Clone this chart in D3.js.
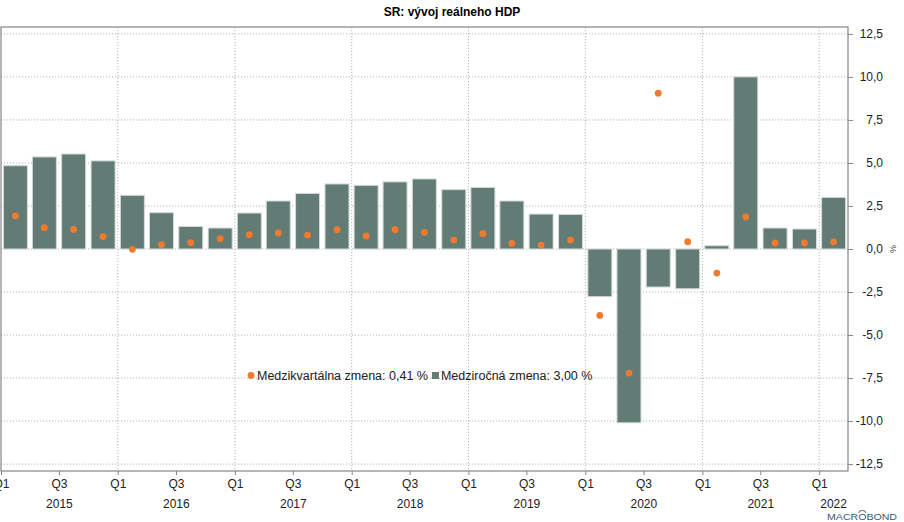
<!DOCTYPE html>
<html>
<head>
<meta charset="utf-8">
<script src="https://cdn.jsdelivr.net/npm/d3@7"></script>
<style>
	body { margin: 0; background: #fff; }
	svg { display: block; font-family: "Liberation Sans", Arial, sans-serif; }
</style>
</head>
<body>
<svg id="chart" width="904" height="522"></svg>
<script>
// quarters shown, first quarter of 2015 up to first quarter of 2022
var quarters = ["2015Q1","2015Q2","2015Q3","2015Q4","2016Q1","2016Q2","2016Q3","2016Q4",
	"2017Q1","2017Q2","2017Q3","2017Q4","2018Q1","2018Q2","2018Q3","2018Q4",
	"2019Q1","2019Q2","2019Q3","2019Q4","2020Q1","2020Q2","2020Q3","2020Q4",
	"2021Q1","2021Q2","2021Q3","2021Q4","2022Q1"];

// medziročná zmena (bars)
var yoy = [4.84, 5.35, 5.52, 5.12, 3.12, 2.11, 1.31, 1.22,
	2.09, 2.79, 3.23, 3.78, 3.70, 3.90, 4.07, 3.45,
	3.58, 2.79, 2.03, 2.01, -2.77, -10.1, -2.21, -2.31,
	0.19, 10.0, 1.22, 1.16, 3.00];

// medzikvartálna zmena (dots)
var qoq = [1.92, 1.24, 1.14, 0.72, -0.02, 0.25, 0.37, 0.60,
	0.83, 0.93, 0.81, 1.12, 0.76, 1.12, 0.97, 0.52,
	0.89, 0.33, 0.23, 0.52, -3.86, -7.21, 9.05, 0.42,
	-1.40, 1.86, 0.35, 0.35, 0.41];

var yTicks = [12.5, 10, 7.5, 5, 2.5, 0, -2.5, -5, -7.5, -10, -12.5];
var years = [2015, 2016, 2017, 2018, 2019, 2020, 2021, 2022];

var legendItems = [
	{ label: "Medzikvartálna zmena: 0,41 %", type: "dot" },
	{ label: "Medziročná zmena: 3,00 %", type: "square" }
];

var barColor = "#627b74", dotColor = "#f07a2e", gridColor = "#b5b5b5", frameColor = "#858585";

var svg = d3.select("#chart");
// plot box (note: "top" is reserved on window, so use pTop etc.)
var pLeft = 1, pRight = 848, pTop = 27, pBottom = 471;

function qStart(q) {
	var yr = +q.slice(0, 4), n = +q.slice(5);
	return new Date(yr, (n - 1) * 3, 1);
}
function qEnd(q) {
	var yr = +q.slice(0, 4), n = +q.slice(5);
	return new Date(yr, n * 3, 1);
}

var x = d3.scaleTime()
	.domain([new Date(2015, 0, 1), new Date(2022, 3, 1)])
	.range([pLeft, pRight]);

var y = d3.scaleLinear()
	.domain([-12.9, 12.9])
	.range([pBottom, pTop]);

var fmt = d => d3.format(".1f")(d).replace(".", ",").replace("−", "-");

// title
svg.append("text")
	.attr("x", 452).attr("y", 16)
	.attr("text-anchor", "middle")
	.attr("font-size", 12).attr("font-weight", "bold")
	.text("SR: vývoj reálneho HDP");

// grid
var grid = svg.append("g");
grid.selectAll("line.h")
	.data(yTicks)
	.enter().append("line")
		.attr("x1", pLeft).attr("x2", pRight)
		.attr("y1", d => y(d)).attr("y2", d => y(d))
		.attr("stroke", gridColor).attr("stroke-dasharray", "1.2,1.8");
grid.selectAll("line.v")
	.data(years.slice(1))
	.enter().append("line")
		.attr("x1", d => x(new Date(d, 0, 1))).attr("x2", d => x(new Date(d, 0, 1)))
		.attr("y1", pTop).attr("y2", pBottom)
		.attr("stroke", gridColor).attr("stroke-dasharray", "1.2,1.8");

// bars
var barW = 24;
svg.append("g")
	.selectAll("rect")
	.data(quarters)
	.enter().append("rect")
		.attr("x", d => (x(qStart(d)) + x(qEnd(d))) / 2 - barW / 2)
		.attr("width", barW)
		.attr("y", (d, i) => y(Math.max(0, yoy[i])))
		.attr("height", (d, i) => Math.abs(y(yoy[i]) - y(0)))
		.attr("fill", barColor)
		.attr("stroke", "#d3dbd7").attr("stroke-width", 1);

// dots
svg.append("g")
	.selectAll("circle")
	.data(quarters)
	.enter().append("circle")
		.attr("cx", d => (x(qStart(d)) + x(qEnd(d))) / 2)
		.attr("cy", (d, i) => y(qoq[i]))
		.attr("r", 3.4)
		.attr("fill", dotColor);

// frame
svg.append("rect")
	.attr("x", pLeft).attr("y", pTop)
	.attr("width", pRight - pLeft).attr("height", pBottom - pTop)
	.attr("fill", "none").attr("stroke", frameColor).attr("stroke-width", 1.2);

// right axis
var yAxis = svg.append("g")
	.attr("transform", `translate(${pRight},0)`)
	.call(d3.axisRight(y).tickValues(yTicks).tickSize(5).tickPadding(30).tickFormat(fmt));
yAxis.select(".domain").remove();
yAxis.selectAll("line").attr("stroke", frameColor);
yAxis.selectAll("text")
	.attr("text-anchor", "end")
	.attr("font-family", "Liberation Sans, Arial, sans-serif")
	.attr("font-size", 12).attr("fill", "#222");

svg.append("text")
	.attr("transform", `translate(890,249) rotate(90)`)
	.attr("text-anchor", "middle")
	.attr("font-size", 9).attr("fill", "#444")
	.text("%");

// bottom axis: Q1 / Q3 ticks
var halfYears = [];
years.forEach(yr => {
	halfYears.push(new Date(yr, 0, 1));
	if (new Date(yr, 6, 1) < x.domain()[1]) halfYears.push(new Date(yr, 6, 1));
});
var xAxis = svg.append("g")
	.attr("transform", `translate(0,${pBottom})`)
	.call(d3.axisBottom(x).tickValues(halfYears).tickSize(4).tickPadding(4)
		.tickFormat(d => d.getMonth() === 0 ? "Q1" : "Q3"));
xAxis.select(".domain").remove();
xAxis.selectAll("line").attr("stroke", frameColor);
xAxis.selectAll("text")
	.attr("font-family", "Liberation Sans, Arial, sans-serif")
	.attr("font-size", 12).attr("fill", "#222");

// year labels, centred on the visible part of each year
svg.append("g")
	.selectAll("text")
	.data(years)
	.enter().append("text")
		.attr("x", d => {
			var a = x(new Date(d, 0, 1)), b = Math.min(x(new Date(d + 1, 0, 1)), pRight);
			return (a + b) / 2;
		})
		.attr("y", 508)
		.attr("text-anchor", "middle")
		.attr("font-size", 12).attr("fill", "#222")
		.text(d => d);

// legend
var lg = svg.append("g").attr("transform", "translate(251,380)");
lg.append("circle").attr("cx", 0).attr("cy", -4.5).attr("r", 3.4).attr("fill", dotColor);
var t1 = lg.append("text").attr("x", 6).attr("font-size", 12.5).attr("fill", "#222").text(legendItems[0].label);
var w1 = t1.node().getComputedTextLength();
lg.append("rect").attr("x", 6 + w1 + 4).attr("y", -8).attr("width", 7).attr("height", 7).attr("fill", barColor);
lg.append("text").attr("x", 6 + w1 + 13).attr("font-size", 12.5).attr("fill", "#222").text(legendItems[1].label);

// macrobond mark
var mb = svg.append("text")
	.attr("x", 827).attr("y", 520)
	.attr("font-size", 9.5).attr("fill", "#3a5878")
	.attr("textLength", 70).attr("lengthAdjust", "spacingAndGlyphs")
	.text("MACROBOND");
var oBox = mb.node().getExtentOfChar(4);
svg.append("path")
	.attr("d", `M${oBox.x + 0.5},${oBox.y + 2} A${oBox.width / 2 - 0.5},2.5 0 0 1 ${oBox.x + oBox.width - 0.5},${oBox.y + 2}`)
	.attr("fill", "none").attr("stroke", "#3a5878").attr("stroke-width", 0.9);
</script>
</body>
</html>
